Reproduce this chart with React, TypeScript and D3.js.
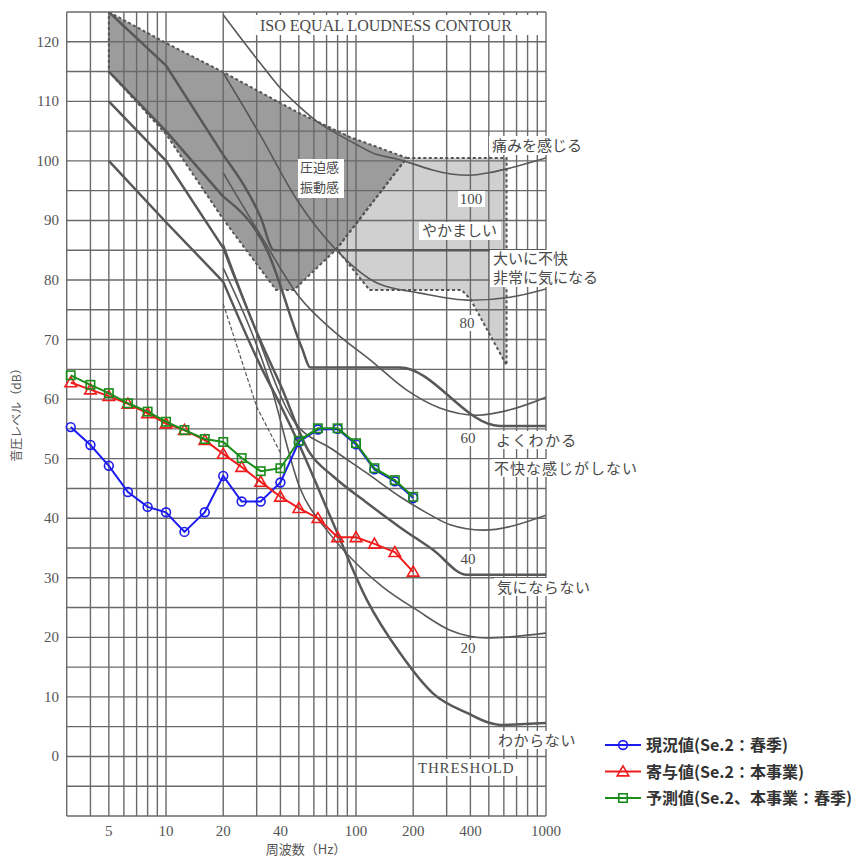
import React from 'react';
import * as d3 from 'd3';

// 1/3-octave band centre frequencies (Hz)
const FREQ = [3.15, 4, 5, 6.3, 8, 10, 12.5, 16, 20, 25, 31.5, 40, 50, 63, 80, 100, 125, 160, 200];
// 現況値 (Se.2: 春季)
const BASE = [55.3, 52.3, 48.8, 44.4, 41.9, 41.0, 37.7, 41.0, 47.1, 42.8, 42.8, 46.0, 52.8, 54.9, 55.0, 52.4, 48.2, 46.2, 43.4];
// 寄与値 (Se.2: 本事業)
const CONTRIB = [62.8, 61.6, 60.5, 59.2, 57.6, 55.9, 54.8, 53.1, 50.8, 48.6, 46.1, 43.6, 41.7, 40.0, 36.8, 36.8, 35.7, 34.3, 31.0];
// 予測値 (Se.2、本事業: 春季)
const PRED = [64.0, 62.4, 61.0, 59.3, 57.9, 56.2, 54.8, 53.3, 52.8, 50.1, 47.9, 48.4, 53.0, 55.1, 55.1, 52.6, 48.4, 46.4, 43.6];

const X_TICKS = [5, 10, 20, 40, 100, 200, 400, 1000];
const Y_TICKS = [0, 10, 20, 30, 40, 50, 60, 70, 80, 90, 100, 110, 120];
const GRID_FREQ = [3, 4, 5, 6, 7, 8, 9, 10, 20, 30, 40, 50, 60, 70, 80, 90, 100, 200, 300, 400, 500, 600, 700, 800, 900, 1000];
const GRID_DB = d3.range(-10, 126, 5);

// ISO equal loudness contours [Hz, dB]
const ISO_100 = [[20, 124.5], [31.5, 116.3], [40, 112.2], [50, 109.2], [63, 106.5], [80, 104.5], [100, 102.8], [125, 101.2], [160, 100.4], [200, 99.5], [250, 98.5], [315, 97.8], [400, 97.6], [500, 98], [630, 98.7], [800, 99.6], [1000, 100.5]];
const ISO_80 = [[20, 114.8], [31.5, 104.2], [49, 93.4], [79, 85], [129, 79.5], [217, 77.8], [400, 76.6], [646, 77.1], [1000, 78.5]];
const ISO_60 = [[20, 98], [31.5, 87.5], [50.7, 77], [79, 71], [118.6, 66.6], [185, 61.5], [276, 58.5], [433, 57.3], [646, 58.2], [1000, 60.3]];
const ISO_40 = [[20, 86], [27.7, 74], [46.7, 56.5], [75.7, 51.5], [113.7, 47.6], [170.6, 43.6], [235.6, 40.9], [312.6, 38.9], [465.6, 38], [1000, 40.5]];
const ISO_20 = [[20, 82], [35, 63], [50.8, 45], [70.2, 38], [92.9, 33.5], [138.6, 28.45], [208.5, 24.6], [312.6, 21.2], [487, 19.9], [1000, 20.7]];

// psychological response curves [Hz, dB]
const FEEL_STRONG = [[5, 125], [10, 116], [20, 101], [31.5, 90.5], [37, 85], [1000, 85]];
const FEEL_CLEAR = [[5, 115], [10, 105], [20, 94], [34, 85], [52, 68.5], [57.5, 65.3], [170, 65.3], [570, 55.5], [1000, 55.5]];
const FEEL_NONE = [[5, 110], [10, 100], [20, 85.4], [31.5, 69.7], [40, 62.4], [57, 51], [76, 47], [114, 42.6], [170, 38.5], [254, 34.7], [383, 30.5], [1000, 30.5]];
const FEEL_UNAWARE = [[5, 100], [10, 89.7], [20, 79.7], [31.5, 65.5], [40, 59], [50.8, 52], [75.7, 39.2], [114, 26.3], [170, 17.4], [254, 10.6], [384, 7.3], [573, 5.3], [1000, 5.6]];
const AUX_DASHED = [[20, 76], [30, 58.7], [40, 51]];

// shaded zones [Hz, dB]
const PRESSURE_ZONE = [[5, 125], [10, 119.8], [20, 114.9], [49, 108.2], [93, 104], [185, 100.5], [79, 85.2], [47, 78.3], [38, 78.3], [20, 90.2], [10, 104.5], [5, 115]];
const LOUD_ZONE = [[185, 100.5], [620, 100.5], [620, 65.7], [400, 76.8], [360, 78.3], [118, 78.3], [79, 85.2]];

const SERIES = [
  { name: '現況値(Se.2：春季)', values: BASE, color: '#1c1cf0', marker: 'circle' },
  { name: '寄与値(Se.2：本事業)', values: CONTRIB, color: '#f01c1c', marker: 'triangle' },
  { name: '予測値(Se.2、本事業：春季)', values: PRED, color: '#1a8c1a', marker: 'square' },
];

const W = 863;
const H = 860;
const x = d3.scaleLog().domain([3, 1000]).range([66.7, 546]);
const y = d3.scaleLinear().domain([-10, 125]).range([816, 12]);

const GRID = '#6a6a6a';
const INK = '#585858';
const SERIF = '"Liberation Serif", "DejaVu Serif", serif';
const JP = '"Noto Sans CJK JP", "Noto Sans", sans-serif';

const smooth = d3.line<number[]>().x(d => x(d[0])).y(d => y(d[1])).curve(d3.curveMonotoneX);
const poly = d3.line<number[]>().x(d => x(d[0])).y(d => y(d[1])).curve(d3.curveLinearClosed);
const straight = d3.line<number[]>().x(d => x(d[0])).y(d => y(d[1]));

// straight segments below 20 Hz, smooth curve from 20 Hz upward
function bentPath(pts: number[][]) {
  const low = pts.filter(p => p[0] <= 20);
  const high = pts.filter(p => p[0] >= 20);
  return (low.length > 1 ? straight(low) || '' : '') + (high.length > 1 ? smooth(high) || '' : '');
}

function Marker({ kind, cx, cy, color }: { kind: string; cx: number; cy: number; color: string }) {
  if (kind === 'circle') return <circle cx={cx} cy={cy} r={4.4} fill="none" stroke={color} strokeWidth={1.6} />;
  if (kind === 'triangle') {
    const p = d3.symbol().type(d3.symbolTriangle).size(58)();
    return <path d={p || ''} transform={`translate(${cx},${cy + 1})`} fill="none" stroke={color} strokeWidth={1.6} />;
  }
  return <rect x={cx - 4.2} y={cy - 4.2} width={8.4} height={8.4} fill="none" stroke={color} strokeWidth={1.6} />;
}

function Label({ x0, y0, w, h, tx, ty, text, size, font, anchor = 'start', spacing = 0 }: any) {
  return (
    <g>
      <rect x={x0} y={y0} width={w} height={h} fill="#fff" />
      <text x={tx} y={ty} fontSize={size} fontFamily={font} fill="#4a4a4a" textAnchor={anchor} letterSpacing={spacing}>{text}</text>
    </g>
  );
}

export default function App() {
  const [x0, x1] = x.range();
  const [y0, y1] = y.range();
  return (
    <svg width={W} height={H} style={{ position: 'absolute', left: 0, top: 0, background: '#fff' }}>
      <rect width={W} height={H} fill="#fff" />
      <defs>
        <clipPath id="plot"><rect x={x0} y={y1} width={x1 - x0} height={y0 - y1} /></clipPath>
      </defs>

      {/* shaded zones */}
      <path d={poly(PRESSURE_ZONE) || ''} fill="#9c9c9c" />
      <path d={poly(LOUD_ZONE) || ''} fill="#d0d0d0" />

      {/* grid */}
      {GRID_DB.map(v => <line key={'h' + v} x1={x0} x2={x1} y1={y(v)} y2={y(v)} stroke={GRID} strokeWidth={1.4} />)}
      {GRID_FREQ.map(f => <line key={'v' + f} x1={x(f)} x2={x(f)} y1={y1} y2={y0} stroke={GRID} strokeWidth={1.4} />)}

      {/* contours */}
      <g clipPath="url(#plot)" fill="none" stroke={INK}>
        {[ISO_100, ISO_80, ISO_60, ISO_40, ISO_20].map((c, i) => <path key={'iso' + i} d={smooth(c) || ''} strokeWidth={1.6} />)}
        {[FEEL_STRONG, FEEL_CLEAR, FEEL_NONE, FEEL_UNAWARE].map((c, i) => <path key={'feel' + i} d={bentPath(c)} strokeWidth={2.5} />)}
        <path d={straight(AUX_DASHED) || ''} strokeWidth={1.2} strokeDasharray="4,2" />
        <path d={poly(PRESSURE_ZONE) || ''} strokeWidth={2} strokeDasharray="3,2.5" stroke="#555" />
        <path d={poly(LOUD_ZONE) || ''} strokeWidth={2} strokeDasharray="3,2.5" stroke="#555" />
      </g>

      {/* annotations */}
      <Label x0={256} y0={15} w={286} h={20} tx={260} ty={31} text="ISO EQUAL LOUDNESS CONTOUR" size={16} font={SERIF} />
      <Label x0={489} y0={136} w={98} h={19} tx={492} ty={151} text="痛みを感じる" size={15} font={JP} />
      <rect x={298} y={159} width={46} height={39} fill="#fff" />
      <text x={300} y={172} fontSize={13} fontFamily={JP} fill="#4a4a4a">圧迫感</text>
      <text x={300} y={192} fontSize={13} fontFamily={JP} fill="#4a4a4a">振動感</text>
      <Label x0={458} y0={191} w={27} h={16} tx={471} ty={204} text="100" size={15} font={SERIF} anchor="middle" />
      <Label x0={419} y0={222} w={82} h={18} tx={422} ty={236} text="やかましい" size={15} font={JP} />
      <rect x={490} y={250} width={112} height={37} fill="#fff" />
      <text x={493} y={264} fontSize={15} fontFamily={JP} fill="#4a4a4a">大いに不快</text>
      <text x={493} y={283} fontSize={15} fontFamily={JP} fill="#4a4a4a">非常に気になる</text>
      <Label x0={458} y0={315} w={19} h={16} tx={467} ty={328} text="80" size={15} font={SERIF} anchor="middle" />
      <Label x0={459} y0={430} w={19} h={16} tx={468} ty={443} text="60" size={15} font={SERIF} anchor="middle" />
      <Label x0={493} y0={431} w={82} h={18} tx={496} ty={446} text="よくわかる" size={15} font={JP} spacing={1.3} />
      <Label x0={492} y0={459} w={146} h={18} tx={494} ty={474} text="不快な感じがしない" size={15} font={JP} spacing={1} />
      <Label x0={459} y0={551} w={19} h={16} tx={468} ty={564} text="40" size={15} font={SERIF} anchor="middle" />
      <Label x0={494} y0={578} w={98} h={18} tx={497} ty={593} text="気にならない" size={15} font={JP} spacing={0.6} />
      <Label x0={459} y0={640} w={19} h={16} tx={468} ty={653} text="20" size={15} font={SERIF} anchor="middle" />
      <Label x0={495} y0={731} w={82} h={18} tx={498} ty={746} text="わからない" size={15} font={JP} spacing={0.6} />
      <Label x0={415} y0={759} w={110} h={17} tx={418} ty={773} text="THRESHOLD" size={15} font={SERIF} spacing={0.8} />

      {/* measured / predicted spectra */}
      {SERIES.map(s => {
        const pts = FREQ.map((f, i) => [f, s.values[i]]);
        return (
          <g key={s.name}>
            <path d={straight(pts) || ''} fill="none" stroke={s.color} strokeWidth={2} />
            {pts.map((p, i) => <Marker key={i} kind={s.marker} cx={x(p[0])} cy={y(p[1])} color={s.color} />)}
          </g>
        );
      })}

      {/* axes labels */}
      {Y_TICKS.map(v => (
        <text key={'yt' + v} x={59} y={y(v) + 5} textAnchor="end" fontSize={15} fontFamily={SERIF} fill="#555">{v}</text>
      ))}
      {X_TICKS.map(f => (
        <text key={'xt' + f} x={x(f)} y={836} textAnchor="middle" fontSize={15} fontFamily={SERIF} fill="#555">{f}</text>
      ))}
      <text x={306} y={854} textAnchor="middle" fontSize={13} fontFamily={JP} fill="#555">周波数（Hz）</text>
      <text transform={`translate(21,412) rotate(-90)`} textAnchor="middle" fontSize={12} fontFamily={JP} fill="#555">音圧レベル（dB）</text>

      {/* legend */}
      {SERIES.map((s, i) => {
        const ly = 745 + i * 26.5;
        return (
          <g key={'lg' + i}>
            <line x1={605} x2={641} y1={ly} y2={ly} stroke={s.color} strokeWidth={2} />
            <Marker kind={s.marker} cx={623} cy={ly} color={s.color} />
            <text x={646} y={ly + 6} fontSize={16} fontWeight={700} fontFamily={JP} fill="#333">{s.name}</text>
          </g>
        );
      })}
    </svg>
  );
}
